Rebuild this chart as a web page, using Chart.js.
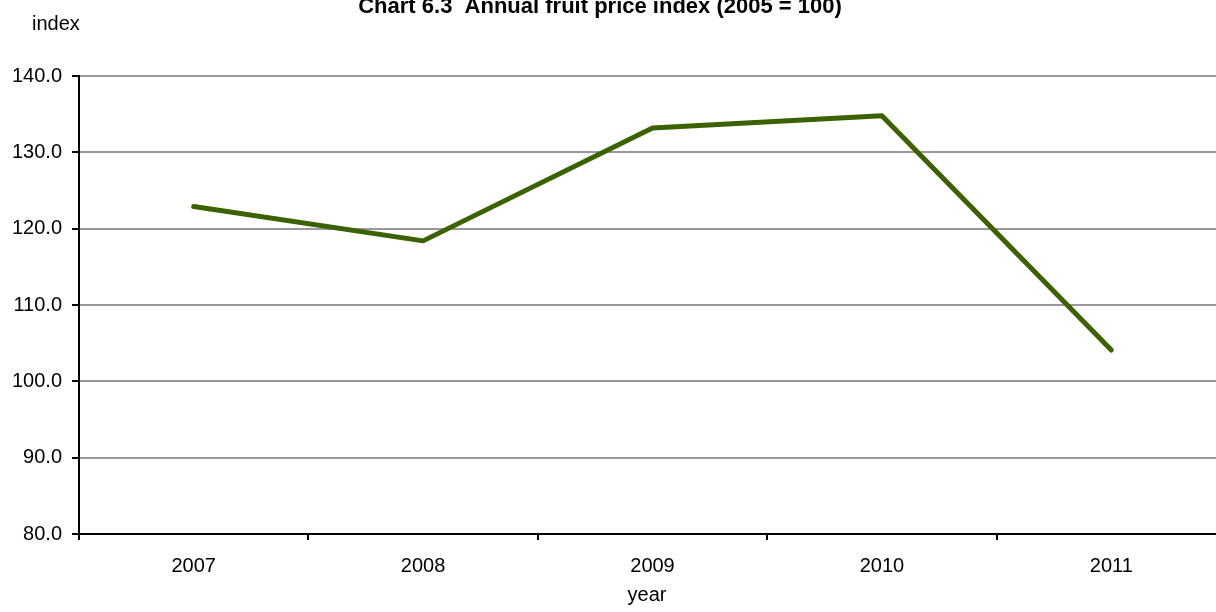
<!DOCTYPE html>
<html>
<head>
<meta charset="utf-8">
<script src="https://cdn.jsdelivr.net/npm/chart.js@4"></script>
<style>
  html, body { margin: 0; padding: 0; background: #fff; overflow: hidden; }
  #wrap { width: 1226px; height: 612px; position: relative; }
</style>
</head>
<body>
<div id="wrap"><canvas id="chart"></canvas></div>
<script>
// chart data
const years = ['2007', '2008', '2009', '2010', '2011'];
const fruitIndex = [122.9, 118.4, 133.2, 134.8, 104.1];
const yTicks = [80, 90, 100, 110, 120, 130, 140];

const FONT = 'Arial, "Liberation Sans", sans-serif';

// title and axis captions drawn on the canvas
const captions = {
  id: 'captions',
  afterDraw(chart) {
    const ctx = chart.ctx;
    ctx.save();
    ctx.fillStyle = '#000';
    ctx.textBaseline = 'alphabetic';
    ctx.font = 'bold 22px ' + FONT;
    ctx.textAlign = 'center';
    ctx.fillText('Chart 6.3  Annual fruit price index (2005 = 100)', 600, 13);
    ctx.font = '20px ' + FONT;
    ctx.textAlign = 'left';
    ctx.fillText('index', 32, 30);
    ctx.textAlign = 'center';
    ctx.fillText('year', 647, 601);
    ctx.restore();
  }
};

new Chart(document.getElementById('chart'), {
  type: 'line',
  data: {
    labels: years,
    datasets: [{
      data: fruitIndex,
      borderColor: '#3b6100',
      borderWidth: 5,
      borderCapStyle: 'round',
      borderJoinStyle: 'round',
      pointRadius: 0,
      tension: 0,
      clip: false
    }]
  },
  options: {
    responsive: true,
    maintainAspectRatio: false,
    animation: false,
    layout: { padding: { top: 76, right: 0, bottom: 0, left: 0 } },
    plugins: { legend: { display: false }, tooltip: { enabled: false } },
    scales: {
      x: {
        offset: true,
        grid: { offset: true, drawOnChartArea: false, color: '#000', lineWidth: 2, tickLength: 6 },
        border: { color: '#000', width: 2 },
        ticks: { color: '#000', font: { size: 20, family: FONT }, padding: 14, maxRotation: 0 },
        afterFit(scale) { scale.height = 78; }
      },
      y: {
        min: 80,
        max: 140,
        afterBuildTicks(scale) { scale.ticks = yTicks.map(v => ({ value: v })); },
        grid: { color: '#999', lineWidth: 2, tickColor: '#000', tickLength: 7 },
        border: { color: '#000', width: 2 },
        ticks: {
          color: '#000',
          font: { size: 20, family: FONT },
          padding: 10,
          callback: v => Number(v).toFixed(1)
        },
        afterFit(scale) { scale.width = 79; }
      }
    }
  },
  plugins: [captions]
});
</script>
</body>
</html>
